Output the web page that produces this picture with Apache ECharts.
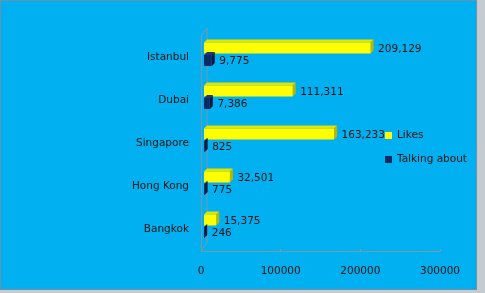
<!DOCTYPE html>
<html>
<head>
<meta charset="utf-8">
<script src="https://cdn.jsdelivr.net/npm/echarts@6/dist/echarts.min.js"></script>
<style>
  html, body { margin: 0; padding: 0; background: #c4ccd2; }
  #c { position: absolute; left: 0; top: 0; width: 477px; height: 290px; background: #00B0F0; box-shadow: inset 0 0 0 1px #6f8fa8; }
</style>
</head>
<body>
<div id="c"></div>
<script>
const cities = ['Istanbul', 'Dubai', 'Singapore', 'Hong Kong', 'Bangkok'];
const likes = [209129, 111311, 163233, 32501, 15375];
const talking = [9775, 7386, 825, 775, 246];
const xTicks = { min: 0, max: 300000, interval: 100000 };
const seriesNames = ['Likes', 'Talking about'];

const FONT = '"DejaVu Sans", Verdana, sans-serif';
const fmt = v => Number(v).toLocaleString('en-US');

function makeRender(col, yTop, yBot, labOff) {
  return function (params, api) {
    const v = api.value(0), cat = api.value(1);
    const p0 = api.coord([0, cat]);
    const p1 = api.coord([v, cat]);
    const c = p0[1];
    const shift = 3, d = 3;
    const xa = p0[0] + shift, xb = p1[0] + shift;
    const t = c + yTop, b = c + yBot;
    return {
      type: 'group',
      children: [
        { type: 'polygon', shape: { points: [[xa, t], [xa + d, t - d], [xb + d, t - d], [xb, t]] }, style: { fill: col.top } },
        { type: 'polygon', shape: { points: [[xb, t], [xb + d, t - d], [xb + d, b - d], [xb, b]] }, style: { fill: col.side } },
        { type: 'rect', shape: { x: xa, y: t, width: Math.max(xb - xa, 0.8), height: b - t }, style: { fill: col.front } },
        { type: 'text', x: xb + 7.5, y: c + labOff, style: { text: fmt(v), fill: '#141414', font: '10.5px ' + FONT, verticalAlign: 'middle', align: 'left' } }
      ]
    };
  };
}

const yellow = { front: '#FFFF00', top: '#E3E300', side: '#B8B800' };
const navy = { front: '#0E2A63', top: '#1B3A78', side: '#071A42' };

const chart = echarts.init(document.getElementById('c'), null, { renderer: 'canvas' });
chart.setOption({
  backgroundColor: 'transparent',
  animation: false,
  grid: { left: 201, top: 36, width: 239, height: 215, containLabel: false },
  xAxis: {
    type: 'value', min: xTicks.min, max: xTicks.max, interval: xTicks.interval,
    axisLine: { show: true, lineStyle: { color: '#8296a6', width: 1 } },
    axisTick: { show: true, length: 2, inside: true, lineStyle: { color: '#8296a6' } },
    splitLine: { show: false },
    axisLabel: { margin: 15, color: '#141414', fontFamily: FONT, fontSize: 10.5, formatter: v => String(v) }
  },
  yAxis: {
    type: 'category', data: cities, inverse: true,
    axisLine: { show: true, lineStyle: { color: '#8296a6', width: 1 } },
    axisTick: { show: false },
    axisLabel: { margin: 12, color: '#141414', fontFamily: FONT, fontSize: 10.5 }
  },
  legend: {
    orient: 'vertical', left: 380, top: 124,
    itemWidth: 7, itemHeight: 7, itemGap: 11, icon: 'rect',
    textStyle: { color: '#141414', fontFamily: FONT, fontSize: 10.5, lineHeight: 13 },
    data: seriesNames
  },
  graphic: [
    { type: 'polyline', shape: { points: [[201, 36], [207, 28], [207, 243], [201, 251]] }, style: { stroke: '#8296a6', lineWidth: 1, fill: null }, silent: true }
  ],
  series: [
    {
      name: seriesNames[0], type: 'custom', itemStyle: { color: yellow.front },
      encode: { x: 0, y: 1 },
      data: likes.map((v, i) => [v, i]),
      renderItem: makeRender(yellow, -15, -4, -8)
    },
    {
      name: seriesNames[1], type: 'custom', itemStyle: { color: navy.front },
      encode: { x: 0, y: 1 },
      data: talking.map((v, i) => [v, i]),
      renderItem: makeRender(navy, -2.5, 8.5, 4)
    }
  ]
});
</script>
</body>
</html>
